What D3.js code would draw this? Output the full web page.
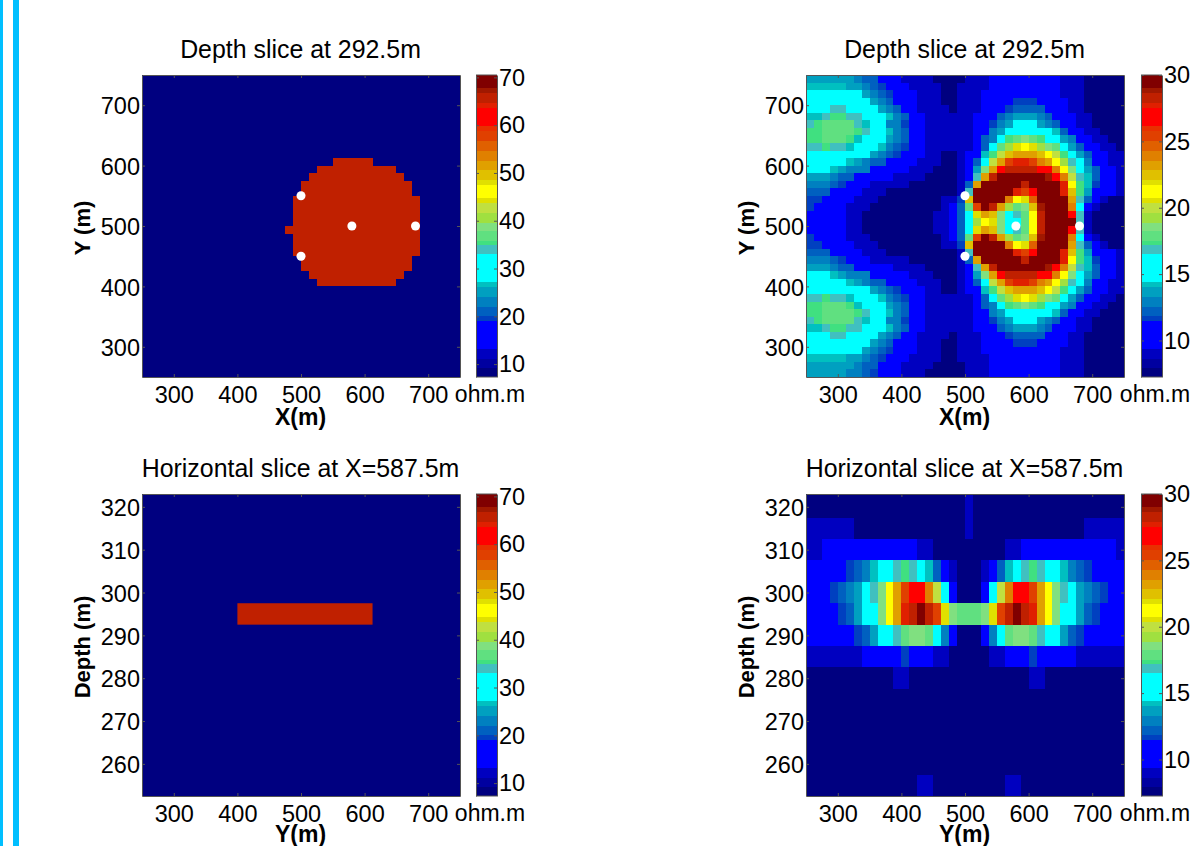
<!DOCTYPE html>
<html>
<head>
<meta charset="utf-8">
<script src="https://cdn.jsdelivr.net/npm/d3@7"></script>
<style>
  html, body { margin: 0; padding: 0; background: #fff; overflow: hidden; }
  text { font-family: "Liberation Sans", Arial, sans-serif; fill: #000; }
</style>
</head>
<body>
<div id="chart"></div>
<script>
// colour bands of the colour bar, bottom to top
const bandColors = ["#000080","#0000a0","#0000c0","#0000ff","#0040c0","#0060c0","#0080c0","#00a0c0","#00c0c0","#00ffff",
  "#40c0c0","#40e080","#60e080","#80e080","#a0e040","#c0e040","#e0e000","#ffff00","#e0e000","#e0c000",
  "#e0a000","#e08000","#e06000","#e04000","#e83000","#ff0000","#e02000","#c02000","#a01800","#800000"];
const bandBreaks = [.0297,.0604,.0934,.1868,.2033,.2308,.2637,.2967,.3132,.4066,.4363,.4505,.4835,.511,.544,.5769,.5934,.6374,.6538,.6868,.7143,.7473,.7802,.8132,.8297,.8901,.9066,.9396,.956];

const xyTicks = [300, 400, 500, 600, 700];
const depthTicks = [260, 270, 280, 290, 300, 310, 320];
const modelBarTicks = [10, 20, 30, 40, 50, 60, 70];
const invertedBarTicks = [10, 15, 20, 25, 30];

// electrode positions in the depth slices (x, y)
const markersX = [500, 580, 680, 500];
const markersY = [550, 500, 500, 450];

// true model: background and body resistivity
const modelBackground = 8;
const modelBody = 65;
// body cells per row of the depth slice: y top of row, x from, x to
const discRowTop = [612.5, 600, 587.5, 575, 562.5, 550, 537.5, 525, 512.5, 500, 487.5, 475, 462.5, 450, 437.5, 425, 412.5];
const discFrom = [550, 525, 512.5, 500, 500, 487.5, 487.5, 487.5, 487.5, 475, 487.5, 487.5, 487.5, 500, 500, 512.5, 525];
const discTo = [612.5, 650, 662.5, 675, 675, 687.5, 687.5, 687.5, 687.5, 687.5, 687.5, 687.5, 687.5, 675, 675, 662.5, 650];
// body in the vertical slice
const barDepth = [297.5, 292.5];
const barY = [400, 612.5];

// inverted depth slice, ohm.m, 40 rows from y=750 down, 40 columns from x=250
const invertedDepth = [
[13.6,13.6,13.6,13.6,13.6,13.6,12.9,12.2,12.2,10.5,10.5,10.5,9,9,9,9,7.6,7.6,7.6,7.6,9,9,9,10.5,10.5,10.5,10.5,10.5,10.5,10.5,10.5,10.5,9,9,9,7.6,7.6,7.6,7.6,7.6],
[14.2,14.2,14.2,14.2,14.2,13.6,13.6,12.9,12.2,11.7,10.5,10.5,10.5,9,9,9,9,7.6,7.6,9,9,9,9,10.5,10.5,10.5,10.5,10.5,10.5,10.5,10.5,10.5,9,9,9,7.6,7.6,7.6,7.6,7.6],
[15.5,15.5,15.5,15.5,15.5,15.5,15.5,13.6,12.9,12.2,11.7,10.5,10.5,10.5,9,9,9,7.6,7.6,9,9,9,10.5,10.5,10.5,10.5,10.5,10.5,10.5,10.5,10.5,10.5,9,9,9,7.6,7.6,7.6,7.6,7.6],
[15.5,15.5,15.5,15.5,15.5,15.5,15.5,15.5,13.6,12.9,12.2,10.5,10.5,10.5,9,9,9,7.6,7.6,9,9,9,10.5,10.5,10.5,10.5,11.7,11.7,11.7,10.5,10.5,10.5,10.5,9,9,7.6,7.6,7.6,7.6,7.6],
[15.5,15.5,15.5,16.8,16.8,15.5,15.5,15.5,15.5,13.6,12.9,12.2,10.5,10.5,9,9,9,9,7.6,9,9,9,10.5,10.5,10.5,11.7,12.2,12.2,12.2,12.2,10.5,10.5,10.5,9,9,7.6,7.6,7.6,7.6,7.6],
[14.2,14.2,16.8,17.3,17.3,16.8,16.8,15.5,15.5,15.5,14.2,12.9,12.2,10.5,10.5,9,9,9,9,9,9,10.5,10.5,10.5,12.2,12.9,13.6,13.6,13.6,12.9,12.2,10.5,10.5,10.5,9,9,7.6,7.6,7.6,7.6],
[16.8,17.3,17.9,17.9,17.9,17.9,16.8,14.2,15.5,15.5,12.9,12.9,11.7,10.5,10.5,9,9,9,9,9,9,10.5,10.5,11.7,12.9,13.6,15.5,15.5,15.5,13.6,12.9,12.2,10.5,10.5,9,9,7.6,7.6,7.6,7.6],
[17.3,17.3,17.9,17.9,17.9,17.9,17.3,16.8,15.5,15.5,14.2,12.9,12.2,10.5,10.5,9,9,9,9,9,9,10.5,10.5,12.9,13.6,15.5,15.5,15.5,15.5,15.5,15.5,14.2,12.2,10.5,10.5,9,9,7.6,7.6,7.6],
[17.3,17.3,17.9,17.9,17.9,17.3,14.2,15.5,15.5,15.5,13.6,12.9,12.2,10.5,10.5,9,9,9,9,9,9,10.5,12.2,12.9,15.5,17.3,17.9,18.6,17.9,17.3,15.5,15.5,13.6,12.9,10.5,10.5,9,9,7.6,7.6],
[16.8,16.8,17.3,16.8,16.8,14.2,15.5,15.5,15.5,14.2,12.9,12.2,11.7,10.5,10.5,9,9,9,9,9,9,10.5,12.2,15.5,17.9,19.3,20.6,21.2,21.9,19.3,18.6,17.9,15.5,13.6,12.2,10.5,10.5,9,9,7.6],
[15.5,15.5,15.5,15.5,15.5,15.5,15.5,15.5,13.6,12.9,12.2,11.7,10.5,10.5,10.5,9,9,7.6,7.6,9,10.5,10.5,14.2,17.3,20,22.5,23.2,23.2,23.2,22.5,21.2,20,17.3,15.5,13.6,12.2,10.5,10.5,9,9],
[15.5,15.5,15.5,15.5,15.5,14.2,13.6,12.9,12.2,12.2,10.5,10.5,10.5,10.5,9,9,9,7.6,7.6,9,10.5,12.2,15.5,20,23.2,25.4,27.7,27.7,25.4,23.9,23.2,21.2,19.3,16.8,15.5,12.9,10.5,10.5,9,9],
[15.5,15.5,15.5,14.2,13.6,12.9,12.9,12.9,10.5,10.5,10.5,10.5,10.5,9,9,9,7.6,7.6,7.6,9,10.5,13.6,18.6,23.2,26.8,28.2,28.2,28.2,28.2,26.8,26.8,23.9,21.2,18.6,15.5,13.6,12.2,10.5,10.5,9],
[13.6,13.6,13.6,12.9,12.2,12.2,10.5,10.5,10.5,10.5,10.5,9,9,9,9,7.6,7.6,7.6,7.6,9,10.5,16.8,23.2,28.2,29.5,29.5,29.5,29.5,29.5,29.5,28.8,26.8,23.9,20,16.8,14.2,12.2,10.5,10.5,9],
[12.9,12.9,12.9,12.2,11.7,10.5,10.5,10.5,9,9,9,9,9,7.6,7.6,7.6,7.6,7.6,7.6,9,12.2,23.2,29.5,29.5,29.5,29.5,29.5,28.2,29.5,29.5,29.5,29.5,27.7,21.2,17.3,14.2,11.7,10.5,10.5,9],
[12.2,12.2,12.2,10.5,10.5,10.5,10.5,9,9,9,7.6,7.6,7.6,7.6,7.6,7.6,7.6,7.6,7.6,9,16.8,29.5,29.5,29.5,29.5,29.5,27.7,25.4,26.8,29.5,29.5,29.5,27.7,22.5,17.3,13.6,10.5,10.5,10.5,9],
[11.7,11.7,10.5,10.5,10.5,10.5,9,9,9,7.6,7.6,7.6,7.6,7.6,7.6,7.6,7.6,9,9,11.7,22.5,29.5,29.5,29.5,29.5,23.9,21.2,21.9,24.6,29.5,29.5,29.5,29.5,23.2,16.8,12.2,10.5,9,7.6,7.6],
[11.7,10.5,10.5,10.5,10.5,9,9,9,7.6,7.6,7.6,7.6,7.6,7.6,7.6,7.6,7.6,9,10.5,12.2,17.9,25.4,29.5,28.2,23.2,19.3,17.9,18.6,22.5,28.8,29.5,29.5,29.5,23.9,15.5,10.5,9,7.6,7.6,7.6],
[10.5,10.5,10.5,10.5,10.5,9,9,7.6,7.6,7.6,7.6,7.6,7.6,7.6,7.6,7.6,9,9,10.5,12.2,15.5,20.6,23.2,22.5,18.6,15.5,16.8,17.9,21.2,28.2,29.5,29.5,29.5,26.8,16.8,9,7.6,7.6,7.6,7.6],
[10.5,10.5,10.5,10.5,10.5,9,9,7.6,7.6,7.6,7.6,7.6,7.6,7.6,7.6,7.6,9,9,10.5,12.2,15.5,19.3,21.2,20.6,18.6,15.5,15.5,17.9,21.2,28.2,29.5,29.5,29.5,29.5,16.8,9,7.6,7.6,7.6,7.6],
[10.5,10.5,10.5,10.5,10.5,9,9,7.6,7.6,7.6,7.6,7.6,7.6,7.6,7.6,7.6,9,9,10.5,12.2,15.5,20.6,23.2,22.5,18.6,15.5,16.8,17.9,21.2,28.2,29.5,29.5,29.5,26.8,16.8,9,7.6,7.6,7.6,7.6],
[11.7,10.5,10.5,10.5,10.5,9,9,9,7.6,7.6,7.6,7.6,7.6,7.6,7.6,7.6,7.6,9,10.5,12.2,17.9,25.4,29.5,28.2,23.2,19.3,17.9,18.6,22.5,28.8,29.5,29.5,29.5,23.9,15.5,10.5,9,7.6,7.6,7.6],
[11.7,11.7,10.5,10.5,10.5,10.5,9,9,9,7.6,7.6,7.6,7.6,7.6,7.6,7.6,7.6,9,9,11.7,22.5,29.5,29.5,29.5,29.5,23.9,21.2,21.9,24.6,29.5,29.5,29.5,29.5,23.2,16.8,12.2,10.5,9,7.6,7.6],
[12.2,12.2,12.2,10.5,10.5,10.5,10.5,9,9,9,7.6,7.6,7.6,7.6,7.6,7.6,7.6,7.6,7.6,9,16.8,29.5,29.5,29.5,29.5,29.5,27.7,25.4,26.8,29.5,29.5,29.5,27.7,22.5,17.3,13.6,10.5,10.5,10.5,9],
[12.9,12.9,12.9,12.2,11.7,10.5,10.5,10.5,9,9,9,9,9,7.6,7.6,7.6,7.6,7.6,7.6,9,12.2,23.2,29.5,29.5,29.5,29.5,29.5,28.2,29.5,29.5,29.5,29.5,27.7,21.2,17.3,14.2,11.7,10.5,10.5,9],
[13.6,13.6,13.6,12.9,12.2,12.2,10.5,10.5,10.5,10.5,10.5,9,9,9,9,7.6,7.6,7.6,7.6,9,10.5,16.8,23.2,28.2,29.5,29.5,29.5,29.5,29.5,29.5,28.8,26.8,23.9,20,16.8,14.2,12.2,10.5,10.5,9],
[15.5,15.5,15.5,14.2,13.6,12.9,12.9,12.9,10.5,10.5,10.5,10.5,10.5,9,9,9,7.6,7.6,7.6,9,10.5,13.6,18.6,23.2,26.8,28.2,28.2,28.2,28.2,26.8,26.8,23.9,21.2,18.6,15.5,13.6,12.2,10.5,10.5,9],
[15.5,15.5,15.5,15.5,15.5,14.2,13.6,12.9,12.2,12.2,10.5,10.5,10.5,10.5,9,9,9,7.6,7.6,9,10.5,12.2,15.5,20,23.2,25.4,27.7,27.7,25.4,23.9,23.2,21.2,19.3,16.8,15.5,12.9,10.5,10.5,9,9],
[15.5,15.5,15.5,15.5,15.5,15.5,15.5,15.5,13.6,12.9,12.2,11.7,10.5,10.5,10.5,9,9,7.6,7.6,9,10.5,10.5,14.2,17.3,20,22.5,23.2,23.2,23.2,22.5,21.2,20,17.3,15.5,13.6,12.2,10.5,10.5,9,9],
[16.8,16.8,17.3,16.8,16.8,14.2,15.5,15.5,15.5,14.2,12.9,12.2,11.7,10.5,10.5,9,9,9,9,9,9,10.5,12.2,15.5,17.9,19.3,20.6,21.2,21.9,19.3,18.6,17.9,15.5,13.6,12.2,10.5,10.5,9,9,7.6],
[17.3,17.3,17.9,17.9,17.9,17.3,14.2,15.5,15.5,15.5,13.6,12.9,12.2,10.5,10.5,9,9,9,9,9,9,10.5,12.2,12.9,15.5,17.3,17.9,18.6,17.9,17.3,15.5,15.5,13.6,12.9,10.5,10.5,9,9,7.6,7.6],
[17.3,17.3,17.9,17.9,17.9,17.9,17.3,16.8,15.5,15.5,14.2,12.9,12.2,10.5,10.5,9,9,9,9,9,9,10.5,10.5,12.9,13.6,15.5,15.5,15.5,15.5,15.5,15.5,14.2,12.2,10.5,10.5,9,9,7.6,7.6,7.6],
[16.8,17.3,17.9,17.9,17.9,17.9,16.8,14.2,15.5,15.5,12.9,12.9,11.7,10.5,10.5,9,9,9,9,9,9,10.5,10.5,11.7,12.9,13.6,15.5,15.5,15.5,13.6,12.9,12.2,10.5,10.5,9,9,7.6,7.6,7.6,7.6],
[14.2,14.2,16.8,17.3,17.3,16.8,16.8,15.5,15.5,15.5,14.2,12.9,12.2,10.5,10.5,9,9,9,9,9,9,10.5,10.5,10.5,12.2,12.9,13.6,13.6,13.6,12.9,12.2,10.5,10.5,10.5,9,9,7.6,7.6,7.6,7.6],
[15.5,15.5,15.5,16.8,16.8,15.5,15.5,15.5,15.5,13.6,12.9,12.2,10.5,10.5,9,9,9,9,7.6,9,9,9,10.5,10.5,10.5,11.7,12.2,12.2,12.2,12.2,10.5,10.5,10.5,9,9,7.6,7.6,7.6,7.6,7.6],
[15.5,15.5,15.5,15.5,15.5,15.5,15.5,15.5,13.6,12.9,12.2,10.5,10.5,10.5,9,9,9,7.6,7.6,9,9,9,10.5,10.5,10.5,10.5,11.7,11.7,11.7,10.5,10.5,10.5,10.5,9,9,7.6,7.6,7.6,7.6,7.6],
[15.5,15.5,15.5,15.5,15.5,15.5,15.5,13.6,12.9,12.2,11.7,10.5,10.5,10.5,9,9,9,7.6,7.6,9,9,9,10.5,10.5,10.5,10.5,10.5,10.5,10.5,10.5,10.5,10.5,9,9,9,7.6,7.6,7.6,7.6,7.6],
[14.2,14.2,14.2,14.2,14.2,13.6,13.6,12.9,12.2,11.7,10.5,10.5,10.5,9,9,9,9,7.6,7.6,9,9,9,9,10.5,10.5,10.5,10.5,10.5,10.5,10.5,10.5,10.5,9,9,9,7.6,7.6,7.6,7.6,7.6],
[13.6,13.6,13.6,13.6,13.6,13.6,12.9,12.2,12.2,10.5,10.5,10.5,9,9,9,9,7.6,7.6,7.6,7.6,9,9,9,10.5,10.5,10.5,10.5,10.5,10.5,10.5,10.5,10.5,9,9,9,7.6,7.6,7.6,7.6,7.6],
[13.6,13.6,13.6,13.6,13.6,12.9,12.9,12.2,11.7,10.5,10.5,10.5,9,9,9,7.6,7.6,7.6,7.6,7.6,9,9,9,10.5,10.5,10.5,10.5,10.5,10.5,10.5,10.5,10.5,9,9,9,7.6,7.6,7.6,7.6,7.6]
];

// inverted vertical slice, ohm.m, 14 rows from the top, 40 columns
const depthEdges = [323, 317.5, 312.5, 307.5, 302.5, 297.5, 292.5, 287.5, 282.5, 277.5, 272.5, 267.5, 262.5, 257.5, 252.5];
const invertedSlice = [
[7.6,7.6,7.6,7.6,7.6,7.6,7.6,7.6,7.6,7.6,7.6,7.6,7.6,7.6,7.6,7.6,7.6,7.6,7.6,7.6,9,7.6,7.6,7.6,7.6,7.6,7.6,7.6,7.6,7.6,7.6,7.6,7.6,7.6,7.6,7.6,7.6,7.6,7.6,7.6],
[9,9,9,9,9,9,7.6,7.6,7.6,7.6,7.6,7.6,7.6,7.6,7.6,7.6,7.6,7.6,7.6,7.6,9,7.6,7.6,7.6,7.6,7.6,7.6,7.6,7.6,7.6,7.6,7.6,7.6,7.6,7.6,9,9,9,9,9],
[9,9,10.5,10.5,10.5,10.5,10.5,10.5,10.5,10.5,10.5,10.5,10.5,10.5,9,9,7.6,7.6,7.6,7.6,7.6,7.6,7.6,7.6,7.6,9,9,10.5,10.5,10.5,10.5,10.5,10.5,10.5,10.5,10.5,10.5,10.5,10.5,9],
[10.5,10.5,10.5,10.5,10.5,11.7,12.2,12.9,14.2,15.5,15.5,16.8,17.3,16.8,15.5,14.2,12.2,10.5,9,7.6,7.6,7.6,9,10.5,12.2,14.2,15.5,16.8,17.3,16.8,15.5,15.5,14.2,12.9,12.2,11.7,10.5,10.5,10.5,10.5],
[10.5,10.5,10.5,11.7,12.2,12.9,13.6,15.5,16.8,18.6,21.2,23.2,25.4,26.8,26.8,23.9,20,15.5,10.5,7.6,7.6,7.6,10.5,15.5,20,23.9,26.8,26.8,25.4,23.2,21.2,18.6,16.8,15.5,13.6,12.9,12.2,11.7,10.5,10.5],
[10.5,10.5,10.5,10.5,11.7,12.2,13.6,15.5,15.5,18.6,21.2,23.2,27.7,28.2,29.5,28.2,25.4,21.9,18.6,17.9,17.9,17.9,18.6,21.9,25.4,28.2,29.5,28.2,27.7,23.2,21.2,18.6,15.5,15.5,13.6,12.2,11.7,10.5,10.5,10.5],
[10.5,10.5,10.5,10.5,10.5,10.5,11.7,12.2,13.6,15.5,15.5,16.8,17.9,18.6,18.6,17.9,15.5,12.9,10.5,7.6,7.6,7.6,10.5,12.9,15.5,17.9,18.6,18.6,17.9,16.8,15.5,15.5,13.6,12.2,11.7,10.5,10.5,10.5,10.5,10.5],
[9,9,9,9,9,9,9,10.5,10.5,10.5,10.5,10.5,11.7,10.5,10.5,10.5,9,9,7.6,7.6,7.6,7.6,7.6,9,9,10.5,10.5,10.5,11.7,10.5,10.5,10.5,10.5,10.5,9,9,9,9,9,9],
[7.6,7.6,7.6,7.6,7.6,7.6,7.6,7.6,7.6,7.6,7.6,9,9,7.6,7.6,7.6,7.6,7.6,7.6,7.6,7.6,7.6,7.6,7.6,7.6,7.6,7.6,7.6,9,9,7.6,7.6,7.6,7.6,7.6,7.6,7.6,7.6,7.6,7.6],
[7.6,7.6,7.6,7.6,7.6,7.6,7.6,7.6,7.6,7.6,7.6,7.6,7.6,7.6,7.6,7.6,7.6,7.6,7.6,7.6,7.6,7.6,7.6,7.6,7.6,7.6,7.6,7.6,7.6,7.6,7.6,7.6,7.6,7.6,7.6,7.6,7.6,7.6,7.6,7.6],
[7.6,7.6,7.6,7.6,7.6,7.6,7.6,7.6,7.6,7.6,7.6,7.6,7.6,7.6,7.6,7.6,7.6,7.6,7.6,7.6,7.6,7.6,7.6,7.6,7.6,7.6,7.6,7.6,7.6,7.6,7.6,7.6,7.6,7.6,7.6,7.6,7.6,7.6,7.6,7.6],
[7.6,7.6,7.6,7.6,7.6,7.6,7.6,7.6,7.6,7.6,7.6,7.6,7.6,7.6,7.6,7.6,7.6,7.6,7.6,7.6,7.6,7.6,7.6,7.6,7.6,7.6,7.6,7.6,7.6,7.6,7.6,7.6,7.6,7.6,7.6,7.6,7.6,7.6,7.6,7.6],
[7.6,7.6,7.6,7.6,7.6,7.6,7.6,7.6,7.6,7.6,7.6,7.6,7.6,7.6,7.6,7.6,7.6,7.6,7.6,7.6,7.6,7.6,7.6,7.6,7.6,7.6,7.6,7.6,7.6,7.6,7.6,7.6,7.6,7.6,7.6,7.6,7.6,7.6,7.6,7.6],
[7.6,7.6,7.6,7.6,7.6,7.6,7.6,7.6,7.6,7.6,7.6,7.6,7.6,7.6,9,9,7.6,7.6,7.6,7.6,7.6,7.6,7.6,7.6,7.6,9,9,7.6,7.6,7.6,7.6,7.6,7.6,7.6,7.6,7.6,7.6,7.6,7.6,7.6]
];

const cellSize = 12.5;
const frameColor = "#555";

const svg = d3.select("#chart").append("svg")
  .attr("width", 1201)
  .attr("height", 846)
  .style("display", "block");

// the two cyan stripes at the page edge
svg.append("rect").attr("x", 0).attr("y", 0).attr("width", 3).attr("height", 846).attr("fill", "#00bfff");
svg.append("rect").attr("x", 13).attr("y", 0).attr("width", 6).attr("height", 846).attr("fill", "#00bfff");

const bandOf = d3.scaleThreshold().domain(bandBreaks).range(bandColors);

function styleAxis(g) {
  g.selectAll("path").attr("stroke", frameColor).attr("stroke-width", 1);
  g.selectAll("line").attr("stroke", frameColor).attr("stroke-width", 1);
  g.selectAll("text").attr("font-size", 23.5).attr("font-family", '"Liberation Sans", Arial, sans-serif').attr("fill", "#000");
}

// plot frame, axes and labels, returns the scales
function panel(left, top, yDomain, yTicks, opts) {
  const w = 318, h = 302;
  const x = d3.scaleLinear().domain([250, 750]).range([left, left + w]);
  const y = d3.scaleLinear().domain(yDomain).range([top + h, top]);
  const marks = svg.append("g");

  const bottomAxis = svg.append("g").attr("transform", `translate(0,${top + h})`)
    .call(d3.axisBottom(x).tickValues(xyTicks).tickSizeInner(-3).tickSizeOuter(0).tickPadding(9));
  const leftAxis = svg.append("g").attr("transform", `translate(${left},0)`)
    .call(d3.axisLeft(y).tickValues(yTicks).tickSizeInner(-3).tickSizeOuter(0).tickPadding(2));
  leftAxis.selectAll("text").attr("dy", "0.37em");
  const topAxis = svg.append("g").attr("transform", `translate(0,${top})`)
    .call(d3.axisTop(x).tickValues(xyTicks).tickSizeInner(-3).tickSizeOuter(0).tickFormat(""));
  const rightAxis = svg.append("g").attr("transform", `translate(${left + w},0)`)
    .call(d3.axisRight(y).tickValues(yTicks).tickSizeInner(-3).tickSizeOuter(0).tickFormat(""));
  [bottomAxis, leftAxis, topAxis, rightAxis].forEach(styleAxis);

  svg.append("text").attr("x", left + w / 2 - 0.5).attr("y", top - 17)
    .attr("text-anchor", "middle").attr("font-size", 24.9)
    .text(opts.title);
  svg.append("text").attr("x", left + w / 2 - 0.5).attr("y", top + h + opts.labelGap)
    .attr("text-anchor", "middle").attr("font-size", 23).attr("font-weight", "bold")
    .text(opts.xLabel);
  svg.append("text")
    .attr("transform", `translate(${left - 52},${top + h / 2 + 2}) rotate(-90)`)
    .attr("text-anchor", "middle").attr("font-size", 22).attr("font-weight", "bold")
    .text(opts.yLabel);

  return { x, y, marks };
}

function colorBar(left, top, domain, ticks) {
  const w = 21, h = 302;
  const y = d3.scaleLinear().domain(domain).range([top + h, top]);
  const frac = d3.scaleLinear().domain(domain).range([0, 1]);
  const edges = [0].concat(bandBreaks, [1]);
  svg.append("g").selectAll("rect").data(bandColors).join("rect")
    .attr("x", left)
    .attr("width", w)
    .attr("y", (d, i) => y(frac.invert(edges[i + 1])))
    .attr("height", (d, i) => y(frac.invert(edges[i])) - y(frac.invert(edges[i + 1])))
    .attr("fill", d => d)
    .attr("shape-rendering", "crispEdges");
  const rightAxis = svg.append("g").attr("transform", `translate(${left + w},0)`)
    .call(d3.axisRight(y).tickValues(ticks).tickSizeInner(-3).tickSizeOuter(0).tickPadding(2));
  rightAxis.selectAll("text").attr("dy", "0.33em");
  const leftAxis = svg.append("g").attr("transform", `translate(${left},0)`)
    .call(d3.axisLeft(y).tickValues(ticks).tickSizeInner(-3).tickSizeOuter(0).tickFormat(""));
  [rightAxis, leftAxis].forEach(styleAxis);
  svg.append("line").attr("x1", left).attr("x2", left + w).attr("y1", top).attr("y2", top).attr("stroke", frameColor);
  svg.append("line").attr("x1", left).attr("x2", left + w).attr("y1", top + h).attr("y2", top + h).attr("stroke", frameColor);
  svg.append("text").attr("x", left + w / 2 + 3.5).attr("y", top + h + 25)
    .attr("text-anchor", "middle").attr("font-size", 23).text("ohm.m");
  return frac;
}

function drawMarkers(p) {
  p.marks.append("g").selectAll("circle").data(markersX).join("circle")
    .attr("cx", d => p.x(d))
    .attr("cy", (d, i) => p.y(markersY[i]))
    .attr("r", 4.5)
    .attr("fill", "#fff");
}

// top left: true model, depth slice
const p1 = panel(142, 75, [250, 750], xyTicks, { title: "Depth slice at 292.5m", xLabel: "X(m)", yLabel: "Y (m)", labelGap: 48 });
const modelFrac = colorBar(476, 75, [7.3, 70.5], modelBarTicks);
p1.marks.append("rect")
  .attr("x", p1.x(250)).attr("y", p1.y(750))
  .attr("width", p1.x(750) - p1.x(250)).attr("height", p1.y(250) - p1.y(750))
  .attr("fill", bandOf(modelFrac(modelBackground)));
p1.marks.append("g").selectAll("rect").data(discRowTop).join("rect")
  .attr("x", (d, i) => p1.x(discFrom[i]))
  .attr("width", (d, i) => p1.x(discTo[i]) - p1.x(discFrom[i]))
  .attr("y", d => p1.y(d))
  .attr("height", d => p1.y(d - cellSize) - p1.y(d))
  .attr("fill", bandOf(modelFrac(modelBody)))
  .attr("shape-rendering", "crispEdges");
drawMarkers(p1);

// top right: inverted depth slice
const p2 = panel(806, 75, [250, 750], xyTicks, { title: "Depth slice at 292.5m", xLabel: "X(m)", yLabel: "Y (m)", labelGap: 48 });
const invFrac = colorBar(1141, 75, [7.25, 30], invertedBarTicks);
invertedDepth.forEach((row, r) => {
  p2.marks.append("g").selectAll("rect").data(row).join("rect")
    .attr("x", (d, c) => p2.x(250 + c * cellSize))
    .attr("width", (d, c) => p2.x(250 + (c + 1) * cellSize) - p2.x(250 + c * cellSize))
    .attr("y", p2.y(750 - r * cellSize))
    .attr("height", p2.y(750 - (r + 1) * cellSize) - p2.y(750 - r * cellSize))
    .attr("fill", d => bandOf(invFrac(d)))
    .attr("shape-rendering", "crispEdges");
});
drawMarkers(p2);

// bottom left: true model, vertical slice
const p3 = panel(142, 494, [252.5, 323], depthTicks, { title: "Horizontal slice at X=587.5m", xLabel: "Y(m)", yLabel: "Depth (m)", labelGap: 45.5 });
colorBar(476, 494, [7.3, 70.5], modelBarTicks);
p3.marks.append("rect")
  .attr("x", p3.x(250)).attr("y", p3.y(323))
  .attr("width", p3.x(750) - p3.x(250)).attr("height", p3.y(252.5) - p3.y(323))
  .attr("fill", bandOf(modelFrac(modelBackground)));
p3.marks.append("rect")
  .attr("x", p3.x(barY[0])).attr("width", p3.x(barY[1]) - p3.x(barY[0]))
  .attr("y", p3.y(barDepth[0])).attr("height", p3.y(barDepth[1]) - p3.y(barDepth[0]))
  .attr("fill", bandOf(modelFrac(modelBody)));

// bottom right: inverted vertical slice
const p4 = panel(806, 494, [252.5, 323], depthTicks, { title: "Horizontal slice at X=587.5m", xLabel: "Y(m)", yLabel: "Depth (m)", labelGap: 45.5 });
colorBar(1141, 494, [7.25, 30], invertedBarTicks);
invertedSlice.forEach((row, r) => {
  p4.marks.append("g").selectAll("rect").data(row).join("rect")
    .attr("x", (d, c) => p4.x(250 + c * cellSize))
    .attr("width", (d, c) => p4.x(250 + (c + 1) * cellSize) - p4.x(250 + c * cellSize))
    .attr("y", p4.y(depthEdges[r]))
    .attr("height", p4.y(depthEdges[r + 1]) - p4.y(depthEdges[r]))
    .attr("fill", d => bandOf(invFrac(d)))
    .attr("shape-rendering", "crispEdges");
});
</script>
</body>
</html>
